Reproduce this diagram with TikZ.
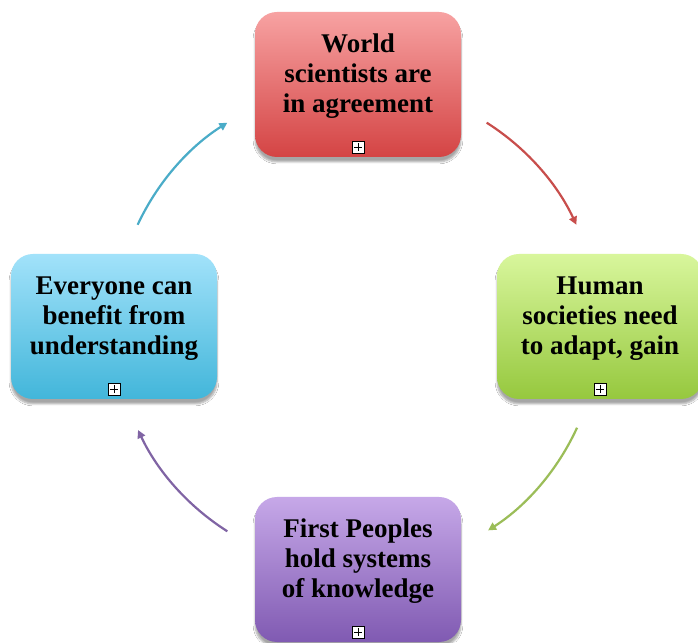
\documentclass[tikz,border=0pt]{standalone}
\usepackage{fontspec}
\setmainfont{Liberation Serif}
\usetikzlibrary{shadows.blur,arrows.meta,calc}
\definecolor{redT}{RGB}{247,162,162}
\definecolor{redB}{RGB}{212,68,68}
\definecolor{grnT}{RGB}{216,246,156}
\definecolor{grnB}{RGB}{150,200,62}
\definecolor{purT}{RGB}{198,168,232}
\definecolor{purB}{RGB}{128,90,178}
\definecolor{bluT}{RGB}{162,226,250}
\definecolor{bluB}{RGB}{66,182,218}
\definecolor{redA}{RGB}{200,78,76}
\definecolor{grnA}{RGB}{155,189,88}
\definecolor{purA}{RGB}{128,100,164}
\definecolor{bluA}{RGB}{74,172,200}
\tikzset{
  box/.style={rounded corners=22pt, minimum width=206pt, minimum height=145pt,
    inner sep=0pt, blur shadow={shadow xshift=0pt, shadow yshift=-5pt, shadow blur steps=6, shadow opacity=35}},
  boxtext/.style={align=center, font=\bfseries\fontsize{27}{30}\selectfont, text=black, inner sep=0pt},
  expander/.style={draw=black, fill=white, line width=0.7pt, minimum size=12pt, inner sep=0pt,
    path picture={\draw[line width=0.9pt] ([xshift=2pt]path picture bounding box.west) -- ([xshift=-2pt]path picture bounding box.east);
                  \draw[line width=0.9pt] ([yshift=2pt]path picture bounding box.south) -- ([yshift=-2pt]path picture bounding box.north);}},
  cyc/.style={line width=2.2pt, -{Triangle[length=8pt,width=8pt]}},
}
\begin{document}
\begin{tikzpicture}[x=1pt,y=1pt]
\useasboundingbox (0,0) rectangle (698,642);
\fill[white] (0,0) rectangle (698,642);
\coordinate (c) at (357,315);
% boxes
\node[box, top color=redT, bottom color=redB] (top) at (358,557.5) {};
\node[box, top color=grnT, bottom color=grnB] (right) at (600,315.5) {};
\node[box, top color=purT, bottom color=purB] (bottom) at (358,72.5) {};
\node[box, top color=bluT, bottom color=bluB] (left) at (114,315.5) {};
% texts
\node[boxtext] (topt) at ([yshift=8pt]top.center) {World\\scientists are\\in agreement};
\node[boxtext] (rightt) at ([yshift=8pt]right.center) {Human\\societies need\\to adapt, gain};
\node[boxtext] (bottomt) at ([yshift=8pt]bottom.center) {First Peoples\\hold systems\\of knowledge};
\node[boxtext] (leftt) at ([yshift=8pt]left.center) {Everyone can\\benefit from\\understanding};
% expanders
\node[expander] (tope) at ([yshift=10pt]top.south) {};
\node[expander] (righte) at ([yshift=10pt]right.south) {};
\node[expander] (bottome) at ([yshift=10pt]bottom.south) {};
\node[expander] (lefte) at ([yshift=10pt]left.south) {};
% arrow end points on circle
\coordinate (a1) at ($(c)+(57.6:242)$);
\coordinate (a2) at ($(c)+(-24.6:242)$);
\coordinate (a3) at ($(c)+(-122.4:242)$);
\coordinate (a4) at ($(c)+(155:242)$);
\draw[cyc, redA] (a1) arc[start angle=57.6, end angle=25, radius=242];
\draw[cyc, grnA] (a2) arc[start angle=-24.6, end angle=-57.2, radius=242];
\draw[cyc, purA] (a3) arc[start angle=-122.4, end angle=-154.8, radius=242];
\draw[cyc, bluA] (a4) arc[start angle=155, end angle=122.4, radius=242];
\end{tikzpicture}
\end{document}
